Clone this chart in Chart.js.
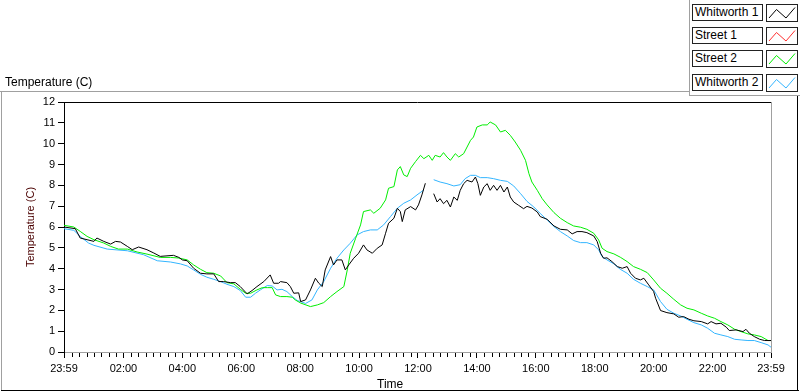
<!DOCTYPE html>
<html>
<head>
<meta charset="utf-8">
<script src="https://cdn.jsdelivr.net/npm/chart.js@4/dist/chart.umd.min.js"></script>
<style>
  html, body { margin:0; padding:0; background:#fff; }
  #wrap { position:relative; width:800px; height:392px; overflow:hidden; font-family:'Liberation Sans', Arial, sans-serif; }
  #c { position:absolute; left:0; top:0; }
  .ln { position:absolute; }
  .txt { position:absolute; font-size:12px; color:#000; white-space:nowrap; line-height:14px; }
  .lbox { position:absolute; box-sizing:border-box; border:1px solid #222; background:#fff; font-size:12px; line-height:15px; padding-left:2px; white-space:nowrap; }
  .sw { position:absolute; box-sizing:border-box; border:1px solid #222; background:#fff; }
</style>
</head>
<body>
<div id="wrap">
  <canvas id="c" width="800" height="392"></canvas>
  <!-- panel frame -->
  <div class="ln" style="left:0;top:91px;width:689px;height:1px;background:#a0a0a0"></div>
  <div class="ln" style="left:1px;top:91px;width:1px;height:300px;background:#a0a0a0"></div>
  <div class="ln" style="left:1px;top:390px;width:798px;height:1px;background:#000"></div>
  <div class="ln" style="left:797px;top:95px;width:1px;height:296px;background:#000"></div>
  <div class="ln" style="left:689px;top:0;width:1px;height:95px;background:#a0a0a0"></div>
  <div class="ln" style="left:689px;top:95px;width:111px;height:1px;background:#a0a0a0"></div>
  <div class="txt" style="left:5px;top:75px">Temperature (C)</div>
  <div class="txt" style="left:377px;top:377px">Time</div>
  <div id="legend"></div>
</div>
<script>
// ---- data (minutes after midnight; -1 = 23:59 of previous day) ----
const seriesNames = ['Whitworth 1', 'Street 1', 'Street 2', 'Whitworth 2'];
const seriesColors = ['#000000', '#ff3030', '#00ee00', '#33b5ff'];

const w1Time = [-1,22,32,46,60,66,80,94,104,114,128,138,151,168,182,195,222,233,240,250,263,277,290,304,314,324,338,348,358,372,382,392,406,419,426,436,440,453,460,467,477,481,491,501,511,518,525,531,542,548,555,565,572,579,589,599,609,616,627,637,647,654,660,671,678,684,688,694,705,715,721,728,735,742,752,759,765,772,779,786,793,800,806,813,820,830,837,842,847,854,861,867,874,881,888,895,902,908,915,925,935,942,952,963,969,983,997,1010,1024,1034,1044,1054,1064,1078,1085,1092,1098,1105,1115,1126,1136,1146,1153,1163,1173,1180,1190,1200,1204,1214,1227,1241,1251,1261,1272,1282,1297,1310,1317,1327,1337,1348,1354,1368,1382,1388,1395,1405,1416,1426,1439];
const w1Temp = [6.0,5.92,5.47,5.39,5.31,5.47,5.31,5.18,5.31,5.28,5.07,4.91,5.04,4.91,4.75,4.59,4.64,4.54,4.42,4.38,4.02,3.78,3.75,3.75,3.38,3.38,3.33,3.33,3.14,2.79,2.95,3.14,3.38,3.70,3.30,3.30,3.38,3.33,3.14,2.82,2.84,2.42,2.50,2.98,3.54,3.30,3.14,3.94,4.58,4.18,4.42,4.42,3.94,4.18,4.50,4.74,5.14,4.90,4.74,4.98,5.14,5.70,6.18,6.42,6.90,6.74,6.26,6.82,6.98,6.82,7.06,7.54,8.10,null,7.60,7.20,7.36,7.12,7.28,6.96,7.44,7.28,7.76,8.08,8.24,8.16,8.40,8.08,7.52,7.92,8.08,7.76,8.00,7.76,8.00,7.68,7.92,7.44,7.20,7.04,6.88,6.99,6.91,6.72,6.50,6.37,6.05,5.89,5.86,5.67,5.78,5.78,5.73,5.57,5.30,4.74,4.50,4.52,4.34,4.10,4.02,4.10,3.78,3.54,3.46,3.54,3.22,2.90,2.58,1.99,1.89,1.83,1.67,1.70,1.57,1.50,1.46,1.35,1.46,1.35,1.38,1.19,1.03,1.06,0.98,1.09,0.90,0.74,0.61,0.55,0.55];

const s1Time = [];
const s1Temp = [];

const s2Time = [-1,19,32,46,60,80,94,110,128,148,168,195,216,233,250,263,277,290,304,318,331,345,358,369,379,392,403,413,423,430,440,453,464,470,481,501,515,528,542,555,569,576,582,593,603,609,623,630,643,654,660,671,678,684,691,698,705,715,725,732,742,749,755,765,772,779,786,796,803,813,820,827,833,840,851,861,867,878,888,898,908,918,929,939,946,952,963,973,983,997,1010,1024,1037,1051,1064,1078,1088,1095,1105,1119,1132,1146,1159,1173,1187,1200,1214,1227,1241,1255,1268,1282,1297,1310,1324,1337,1351,1365,1378,1392,1405,1419,1433,1439];
const s2Temp = [6.08,6.00,5.79,5.55,5.39,5.23,5.07,4.94,4.94,4.80,4.70,4.54,4.54,4.51,4.42,4.18,3.97,3.81,3.78,3.65,3.33,3.27,3.01,2.82,2.82,2.98,3.09,3.09,3.09,2.74,2.66,2.66,2.63,2.50,2.35,2.18,2.26,2.37,2.66,2.90,3.14,3.94,4.74,5.46,6.10,6.74,6.82,6.66,6.90,7.30,7.86,7.94,8.74,8.90,8.50,8.42,8.82,9.14,9.44,9.28,9.44,9.20,9.44,9.36,9.57,9.36,9.20,9.52,9.36,9.52,9.84,10.16,10.32,10.80,10.90,10.90,11.04,10.90,10.56,10.64,10.40,10.08,9.68,9.20,8.56,8.16,7.76,7.36,7.06,6.69,6.42,6.21,6.05,5.99,5.89,5.70,5.38,4.98,4.82,4.71,4.55,4.34,4.10,3.97,3.81,3.46,3.06,2.82,2.53,2.26,2.10,2.02,1.86,1.73,1.62,1.46,1.30,1.09,0.98,0.87,0.82,0.74,0.55,0.55];

const w2Time = [-1,19,32,49,60,87,128,161,189,216,236,250,263,277,290,304,318,331,345,358,369,379,389,399,413,423,433,443,453,464,474,481,491,504,515,528,542,555,569,582,596,609,623,637,650,664,678,691,705,718,732,742,752,765,779,793,806,816,827,837,847,861,874,888,902,915,929,942,956,969,983,997,1010,1024,1037,1051,1064,1078,1088,1095,1105,1119,1132,1146,1159,1173,1187,1200,1214,1227,1241,1255,1268,1282,1297,1310,1324,1337,1351,1365,1378,1392,1405,1419,1433,1439];
const w2Temp = [5.92,5.84,5.55,5.23,5.12,4.94,4.86,4.67,4.38,4.32,4.23,4.13,3.94,3.73,3.59,3.49,3.38,3.25,3.14,2.95,2.63,2.63,2.82,2.98,3.19,3.17,2.98,3.01,2.90,2.66,2.47,2.42,2.33,2.50,2.98,3.38,4.02,4.50,4.90,5.22,5.62,5.78,5.86,5.86,6.10,6.50,6.90,7.14,7.30,7.54,7.78,null,8.27,8.16,8.08,7.97,8.03,8.32,8.48,8.48,8.37,8.37,8.32,8.24,8.19,7.97,7.60,7.23,6.96,6.65,6.34,6.02,5.78,5.57,5.35,5.25,5.25,5.14,4.90,4.58,4.42,4.23,3.97,3.78,3.49,3.30,3.14,2.98,2.42,2.05,1.86,1.73,1.57,1.41,1.30,1.14,0.90,0.82,0.74,0.61,0.58,0.55,0.55,0.45,0.34,0.23];

const xTickValues = [-1,120,240,360,480,600,720,840,960,1080,1200,1320,1439];
const xTickLabels = ['23:59','02:00','04:00','06:00','08:00','10:00','12:00','14:00','16:00','18:00','20:00','22:00','23:59'];

// ---- build ----
const times = [w1Time, s1Time, s2Time, w2Time];
const temps = [w1Temp, s1Temp, s2Temp, w2Temp];
const datasets = seriesNames.map((name, i) => ({
  label: name,
  data: times[i].map((t, j) => ({ x: t, y: temps[i][j] })),
  borderColor: seriesColors[i],
  backgroundColor: seriesColors[i],
  borderWidth: 1,
  pointRadius: 0,
  tension: 0,
  spanGaps: false,
  fill: false
}));

const minorTicks = [];
for (let m = 15; m < 1440; m += 15) if (m % 120 !== 0) minorTicks.push(m);

const framePlugin = {
  id: 'framePlugin',
  afterDraw(chart) {
    const { ctx, chartArea: { left, top, right, bottom }, scales: { x } } = chart;
    ctx.save();
    ctx.lineWidth = 1;
    ctx.strokeStyle = '#000';
    ctx.beginPath();
    for (const m of minorTicks) {
      const px = Math.round(x.getPixelForValue(m)) + 0.5;
      ctx.moveTo(px, bottom + 1);
      ctx.lineTo(px, bottom + 5);
    }
    ctx.stroke();
    // top border (black) and right border (gray)
    ctx.beginPath();
    ctx.moveTo(left, Math.round(top) + 0.5);
    ctx.lineTo(right, Math.round(top) + 0.5);
    ctx.stroke();
    ctx.strokeStyle = '#a0a0a0';
    ctx.beginPath();
    ctx.moveTo(Math.round(right) + 0.5, top);
    ctx.lineTo(Math.round(right) + 0.5, bottom);
    ctx.stroke();
    ctx.restore();
  }
};

const FONT = "'Liberation Sans', Arial, sans-serif";
const chart = new Chart(document.getElementById('c'), {
  type: 'line',
  data: { datasets },
  plugins: [framePlugin],
  options: {
    responsive: false,
    devicePixelRatio: 1,
    animation: false,
    layout: { padding: { top: 102, right: 29, bottom: 0, left: 0 } },
    plugins: { legend: { display: false }, tooltip: { enabled: false }, title: { display: false } },
    scales: {
      x: {
        type: 'linear',
        min: -1,
        max: 1439,
        afterFit: s => { s.height = 40; },
        afterBuildTicks: s => { s.ticks = xTickValues.map(v => ({ value: v })); },
        ticks: {
          autoSkip: false,
          maxRotation: 0,
          color: '#000',
          padding: 4,
          font: { family: FONT, size: 11 },
          callback: (v, i) => xTickLabels[i]
        },
        grid: { drawOnChartArea: false, drawTicks: true, tickLength: 6, tickColor: '#000' },
        border: { display: true, color: '#a0a0a0', width: 1 },
        title: { display: false }
      },
      y: {
        min: 0,
        max: 12,
        afterFit: s => { s.width = 64; },
        ticks: { stepSize: 1, color: '#000', padding: 3, font: { family: FONT, size: 11 } },
        grid: { drawOnChartArea: false, drawTicks: true, tickLength: 6, tickColor: '#000' },
        border: { display: true, color: '#000', width: 1 },
        title: { display: true, text: 'Temperature (C)', color: '#4a0000', font: { family: FONT, size: 11 }, padding: { top: 24, bottom: 0 } }
      }
    }
  }
});

// ---- legend (HTML, from the chart's datasets) ----
const legend = document.getElementById('legend');
const rowTops = [4, 27, 50, 74];
chart.data.datasets.forEach((ds, i) => {
  const t = rowTops[i];
  const box = document.createElement('div');
  box.className = 'lbox';
  box.style.cssText = `left:692px;top:${t}px;width:71px;height:17px;`;
  box.textContent = ds.label;
  legend.appendChild(box);
  const sw = document.createElement('div');
  sw.className = 'sw';
  sw.style.cssText = `left:766px;top:${t}px;width:32px;height:18px;`;
  sw.innerHTML = `<svg width="30" height="16" style="position:absolute;left:0;top:0"><polyline points="2,13 9.5,4.5 19,13 28,2.5" fill="none" stroke="${ds.borderColor}" stroke-width="1"/></svg>`;
  legend.appendChild(sw);
});
</script>
</body>
</html>
